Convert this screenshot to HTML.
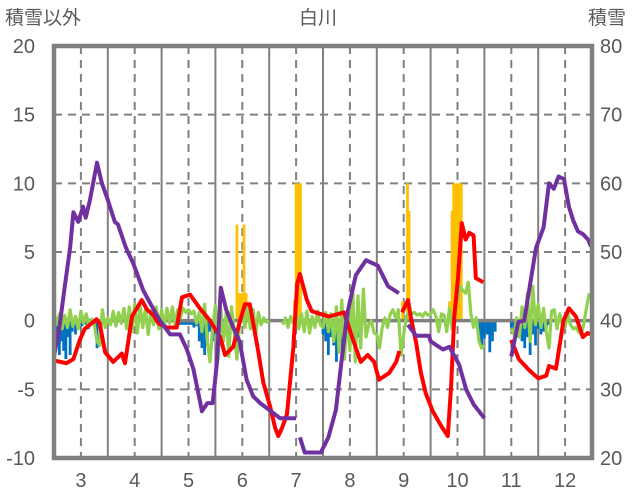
<!DOCTYPE html>
<html><head><meta charset="utf-8">
<style>
html,body{margin:0;padding:0;background:#fff;width:636px;height:501px;overflow:hidden}
svg{display:block}
text{font-family:"Liberation Sans","Noto Sans CJK JP",sans-serif;fill:#595959}
</style></head>
<body>
<svg id="chart" width="636" height="501" viewBox="0 0 636 501">
<text x="5" y="24" font-size="19">積雪以外</text>
<text x="318" y="24" font-size="19" text-anchor="middle">白川</text>
<text x="588" y="24" font-size="19">積雪</text>
<g id="grid"></g><g id="bars"></g><g id="lines"></g><g id="frame"></g><g id="labels"></g>
</svg>
<script>
const monthLabels=[3,4,5,6,7,8,9,10,11,12];
const leftTicks=[20,15,10,5,0,-5,-10];
const rightTicks=[80,70,60,50,40,30,20];
const greenStart=2.5, greenStep=0.05;
const greenV=[0.6,-0.3,0.5,-0.6,0.4,-0.5,0.8,-0.4,0.3,-0.6,0.7,-0.2,0.5,-0.4,0.1,-0.3,-1.5,-1.8,0.8,-0.5,
0.2,-0.3,0.7,-0.4,0.6,-0.2,0.9,-0.6,1.0,-0.8,1.2,-0.9,1.1,-0.5,0.9,-1.0,0.7,-0.3,1.0,-0.6,
0.8,-0.4,0.9,-0.2,1.0,-0.3,0.8,0.2,0.9,0.6,0.8,0.5,0.7,-0.2,0.6,-0.8,1.2,-1.5,-3.0,-0.5,
1.1,-2.8,0.9,-1.5,0.6,-2.6,1.0,-0.8,-2.8,-0.2,0.6,-0.5,1.0,-0.6,0.8,-0.9,0.6,-0.3,0.2,-0.1,
0,null,null,null,null,-0.3,0.2,-0.5,0.3,-0.2,0.6,-0.6,0.5,-0.8,0.7,-0.9,0.3,-0.5,0.7,-0.3,
-0.5,0.6,-0.8,0.5,-1.5,1.0,-2.3,1.5,-2.8,0.5,-2.2,2.5,-3.0,1.8,-2.0,2.3,-1.2,-0.3,0.0,-0.9,
-1.0,-2.0,-0.5,0.2,-0.5,0.5,0.8,0.2,0.8,-2.5,-1.0,0.3,0.6,0.5,0.6,0.4,0.5,0.3,0.6,0.4,
0.5,0.8,0.3,-0.8,0.5,0.4,-0.8,0.9,-0.6,1.0,1.5,2.5,2.2,2.0,2.8,0.5,-0.5,0.2,-1.5,-2.0,
-1.8,null,null,null,null,null,null,null,null,null,-0.6,-1.0,0.2,-1.2,1.0,-0.5,2.0,-1.5,2.5,-0.3,
1.2,-0.5,0.9,-0.8,-2.0,0.7,0.8,-0.6,0.5,-0.3,-0.5,0.6,-0.3,-0.6,-0.5,-0.8,-1.0,-0.2,1.0,2.0];
const purpleT=[2.5,2.6,2.7,2.8,2.86,2.95,3.04,3.09,3.17,3.3,3.39,3.5,3.63,3.69,3.82,3.86,3.97,4.16,4.34,4.47,4.66,4.84,4.97,5.09,5.21,5.25,5.35,5.45,5.53,5.6,5.7,5.83,5.95,6.08,6.2,6.33,6.5,6.7,7.0,null,7.07,7.16,7.46,7.6,7.74,7.83,7.95,8.11,8.3,8.52,8.71,8.91,null,9.08,9.23,9.47,9.5,9.73,9.85,10.03,10.16,10.3,10.5,null,11.0,11.13,11.24,11.46,11.6,11.7,11.79,11.88,11.98,12.07,12.15,12.24,12.33,12.43,12.48];
const purpleV=[-2.6,-0.5,2.5,5.3,7.9,7.2,8.3,7.5,8.8,11.5,10.0,8.8,7.2,7.0,5.5,5.1,4.2,2.2,0.9,0.0,-1.0,-1.0,-2.1,-3.5,-5.8,-6.6,-6.0,-6.0,-3.0,2.4,0.8,-0.5,-1.5,-4.3,-5.5,-6.0,-6.5,-7.1,-7.1,null,-8.5,-9.6,-9.6,-8.5,-6.5,-3.4,0.5,3.3,4.4,4.0,2.5,2.0,null,-0.3,-1.1,-1.1,-1.5,-2.1,-1.9,-3.2,-5.0,-6.1,-7.1,null,-2.6,-0.1,0.0,5.3,6.8,10.0,9.6,10.5,10.3,8.3,7.3,6.5,6.3,5.9,5.4];
const redT=[2.5,2.73,2.86,2.98,3.07,3.29,3.35,3.45,3.6,3.76,3.82,3.95,4.13,4.23,4.35,4.44,4.6,4.78,4.88,5.03,5.21,5.4,5.59,5.68,5.83,5.96,6.05,6.14,6.3,6.39,6.52,6.61,6.67,6.74,6.83,6.95,7.02,7.07,7.2,7.29,7.44,7.61,7.89,8.05,8.2,8.33,8.45,8.54,8.73,8.86,8.92,null,8.97,9.08,9.14,9.23,9.32,9.41,9.54,9.7,9.82,9.88,9.94,10.01,10.08,10.15,10.22,10.3,10.34,10.48,null,11.0,11.14,11.33,11.5,11.65,11.7,11.83,11.97,12.07,12.2,12.33,12.42,12.47];
const redV=[-2.9,-3.1,-2.8,-1.4,-0.6,0.1,-0.2,-2.3,-3.0,-2.4,-3.1,0.3,1.5,0.8,0.4,-0.2,-0.5,-0.5,1.7,1.9,0.9,0.0,-1.2,-2.5,-1.9,0.0,1.2,1.2,-2.3,-4.5,-6.3,-7.8,-8.4,-7.8,-6.8,-1.9,2.7,3.4,1.5,0.7,0.5,0.3,0.6,-1.3,-3.0,-2.5,-3.0,-4.3,-3.8,-3.0,-2.2,null,0.6,1.5,0.1,-1.6,-3.8,-5.3,-6.6,-7.7,-8.4,-4.9,0.3,3.1,7.1,5.9,6.4,6.2,3.1,2.8,null,-1.4,-2.8,-3.6,-4.2,-4.0,-3.3,-3.5,0.0,0.9,0.3,-1.2,-0.9,-1.0];
const blueT=[2.52,2.56,2.6,2.64,2.68,2.72,2.76,2.8,2.84,2.9,2.96,3.02,3.08,3.14,3.2,3.26,3.3,3.36,4.85,4.9,4.95,5.0,5.05,5.1,5.15,5.2,5.25,5.3,5.35,5.4,5.45,5.5,5.55,7.5,7.55,7.6,7.65,7.7,7.75,7.8,7.85,7.9,7.95,8.0,8.05,8.1,8.15,10.4,10.45,10.5,10.55,10.6,10.65,10.7,11.0,11.05,11.1,11.15,11.2,11.25,11.3,11.35,11.4,11.45,11.5,11.55,11.6,11.65,11.7];
const blueV=[-1.0,-1.8,-2.5,-1.5,-2.2,-2.8,-1.2,-2.5,-0.8,-1.0,-0.5,-0.4,-0.3,-0.6,-0.2,-0.5,-2.0,-0.3,-0.3,-0.3,-0.3,-0.3,-0.3,-0.5,-0.4,-1.5,-2.0,-2.5,-1.8,-0.8,-1.5,-1.0,-0.5,-1.0,-1.5,-2.5,-1.2,-1.8,-3.0,-1.5,-2.0,-1.0,-0.8,-1.5,-0.5,-0.5,-1.2,-1.5,-2.0,-1.3,-1.0,-2.3,-1.5,-0.8,-0.5,-1.0,-1.2,-0.8,-1.5,-2.0,-1.2,-2.5,-1.0,-1.8,-0.6,-1.0,-0.8,-0.5,-0.3];
const yellowT=[5.9,5.95,6.0,6.03,6.07,6.97,7.0,7.04,7.08,8.98,9.07,9.1,9.85,9.9,9.93,9.97,10.0,10.04,10.07];
const yellowV=[7,2,2,7,2,1.5,10,10,10,1.4,10,8,1.4,8,10,10,10,10,10];

const X0=54,X1=592,Y20=46,Ym10=458;
const xs=t=>X0+(t-2.5)*(X1-X0)/10;
const ys=v=>Y20+(20-v)*(Ym10-Y20)/30;
const NS="http://www.w3.org/2000/svg";
function mk(tag,attrs,parent){const e=document.createElementNS(NS,tag);for(const k in attrs)e.setAttribute(k,attrs[k]);parent.appendChild(e);return e;}
const grid=document.getElementById('grid'),bars=document.getElementById('bars'),lines=document.getElementById('lines'),frame=document.getElementById('frame'),labels=document.getElementById('labels');
leftTicks.forEach(v=>{ if(v===20||v===-10||v===0)return;
 const l=mk('line',{x1:X0,x2:X1,y1:ys(v),y2:ys(v),stroke:'#808080','stroke-width':2,'stroke-dasharray':'8,6'},grid);
 
 });
monthLabels.forEach(m=>{
 const d=mk('line',{x1:xs(m),x2:xs(m),y1:Y20,y2:Ym10,stroke:'#808080','stroke-width':2,'stroke-dasharray':'8,6'},grid);
 
 
 if(m<12){const s=mk('line',{x1:xs(m+0.5),x2:xs(m+0.5),y1:Y20,y2:Ym10,stroke:'#808080','stroke-width':2},grid);
 
 }
 const t=mk('text',{x:xs(m),y:487,'font-size':20,'text-anchor':'middle'},labels);t.textContent=m;
 
 
});
leftTicks.forEach(v=>{const t=mk('text',{x:35,y:ys(v)+7,'font-size':20,'text-anchor':'end'},labels);t.textContent=v;
 
 });
rightTicks.forEach((v,i)=>{const t=mk('text',{x:600,y:ys(leftTicks[i])+7,'font-size':20},labels);t.textContent=v;
 
 });
blueT.forEach((t,i)=>{const r=mk('rect',{x:xs(t)-1.4,y:ys(0),width:2.8,height:ys(blueV[i])-ys(0),fill:'#0070C0'},bars);
 
 });
yellowT.forEach((t,i)=>{const r=mk('rect',{x:xs(t)-1.4,y:ys(yellowV[i]),width:2.8,height:ys(0)-ys(yellowV[i]),fill:'#FFC000'},bars);
 
 });
const zero=mk('line',{x1:X0,x2:X1,y1:ys(0),y2:ys(0),stroke:'#808080','stroke-width':3.5},lines);


function pathFrom(T,V){let d='',pen=false;for(let i=0;i<T.length;i++){if(V[i]===null||T[i]===null){pen=false;continue;}d+=(pen?'L':'M')+xs(T[i]).toFixed(1)+','+ys(V[i]).toFixed(1);pen=true;}return d;}
const gT=greenV.map((v,i)=>greenStart+i*greenStep);
const g=mk('path',{d:pathFrom(gT,greenV),fill:'none',stroke:'#92D050','stroke-width':3.2,'stroke-linejoin':'round'},lines);


const r=mk('path',{d:pathFrom(redT,redV),fill:'none',stroke:'#FF0000','stroke-width':4,'stroke-linejoin':'round'},lines);


const p=mk('path',{d:pathFrom(purpleT,purpleV),fill:'none',stroke:'#7030A0','stroke-width':4,'stroke-linejoin':'round'},lines);


const f=mk('rect',{x:X0,y:Y20,width:X1-X0,height:Ym10-Y20,fill:'none',stroke:'#808080','stroke-width':4.5},frame);


</script>
</body></html>
